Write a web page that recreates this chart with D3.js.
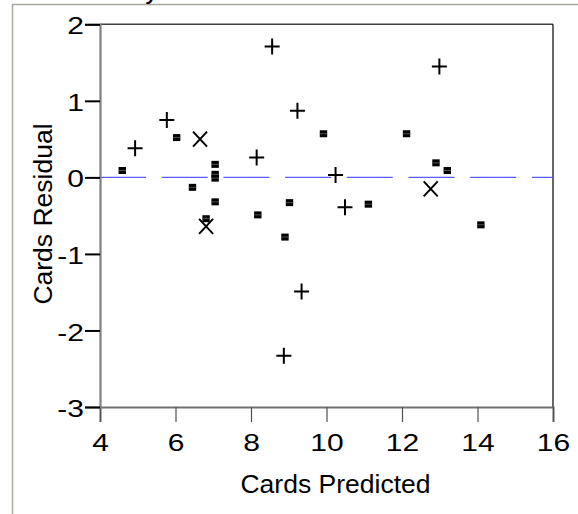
<!DOCTYPE html>
<html>
<head>
<meta charset="utf-8">
<script src="https://cdn.jsdelivr.net/npm/d3@7"></script>
<style>
	body { margin: 0; background: #fff; }
	text { font-family: "Liberation Sans", Arial, sans-serif; fill: #000; }
</style>
</head>
<body>
<svg id="chart" width="578" height="514"></svg>
<script>
/*=================
=== Data
=================*/
var xTicks = [4, 6, 8, 10, 12, 14, 16];
var yTicks = [-3, -2, -1, 0, 1, 2];

// filled squares
var squareX = [4.59, 6.03, 6.45, 6.81, 7.05, 7.05, 7.05, 7.05, 8.18, 8.90, 9.02, 9.92, 11.11, 12.12, 12.90, 13.20, 14.09];
var squareY = [0.09, 0.52, -0.13, -0.54, 0.17, 0.04, -0.01, -0.32, -0.49, -0.78, -0.33, 0.57, -0.35, 0.57, 0.19, 0.09, -0.62];

// plus markers
var plusX = [4.93, 5.77, 8.15, 8.56, 9.23, 8.87, 9.34, 10.24, 10.49, 12.99];
var plusY = [0.38, 0.75, 0.26, 1.71, 0.87, -2.33, -1.49, 0.03, -0.39, 1.45];

// x markers
var crossX = [6.65, 6.81, 12.76];
var crossY = [0.50, -0.64, -0.15];

var fontSize = 26.5;
var tickFont = 24;
var tickStretch = 1.25; // tick digits are drawn wide in the original

/*=================
=== Setup
=================*/
var svg = d3.select('#chart');

var x = d3.scaleLinear().domain([4, 16]).range([100, 553]);
var y = d3.scaleLinear().domain([-3, 2]).range([407, 24.3]);

// outer report frame
svg.append('path')
	.attr('d', 'M12.5,514 V4.5 H578')
	.attr('fill', 'none')
	.attr('stroke', '#a8a8a0')
	.attr('stroke-width', 1.5);

// title, mostly cut off at the top edge (as in the original)
svg.append('text')
	.attr('x', 20)
	.attr('y', -1)
	.attr('font-size', fontSize)
	.text('Residual by Predicted Plot');

// plot frame (top + right)
svg.append('line')
	.attr('x1', x(4)).attr('x2', x(16))
	.attr('y1', y(2)).attr('y2', y(2))
	.attr('stroke', '#404040').attr('stroke-width', 1.5);
svg.append('line')
	.attr('x1', x(16)).attr('x2', x(16))
	.attr('y1', y(2)).attr('y2', y(-3))
	.attr('stroke', '#000').attr('stroke-width', 1.2);

// zero line
svg.append('line')
	.attr('x1', x(4)).attr('x2', x(16))
	.attr('y1', y(0)).attr('y2', y(0))
	.attr('stroke', '#5a5aff')
	.attr('stroke-width', 1.3)
	.attr('stroke-dasharray', '46,15.7');

/*=================
=== Axes
=================*/
var xAxis = svg.append('g')
	.attr('transform', `translate(0,${y(-3)})`)
	.call(d3.axisBottom(x).tickValues(xTicks).tickSize(15).tickPadding(12).tickFormat(d => String(d)));

xAxis.attr('font-family', null);
xAxis.select('.domain').attr('stroke', '#707070').attr('stroke-width', 2);
xAxis.selectAll('.tick line').attr('stroke', '#505050').attr('stroke-width', 1.2);
xAxis.selectAll('.tick text')
	.attr('font-size', tickFont)
	.attr('fill', '#000')
	.attr('transform', `scale(${tickStretch},1)`);

var yAxis = svg.append('g')
	.attr('transform', `translate(${x(4)},0)`)
	.call(d3.axisLeft(y).tickValues(yTicks).tickSize(15).tickPadding(1).tickFormat(d => String(d)));

yAxis.attr('font-family', null);
yAxis.select('.domain').attr('stroke', '#808080').attr('stroke-width', 2.2);
yAxis.selectAll('.tick line').attr('stroke', '#000').attr('stroke-width', 2);
yAxis.selectAll('.tick text')
	.attr('font-size', tickFont)
	.attr('dy', '0.4em')
	.attr('fill', '#000')
	.attr('x', -16 / tickStretch)
	.attr('transform', `scale(${tickStretch},1)`);

// axis titles
svg.append('text')
	.attr('x', 335.5)
	.attr('y', 493)
	.attr('text-anchor', 'middle')
	.attr('font-size', fontSize)
	.text('Cards Predicted');

svg.append('text')
	.attr('transform', 'translate(51.5,214) rotate(-90)')
	.attr('text-anchor', 'middle')
	.attr('font-size', fontSize)
	.text('Cards Residual');

/*=================
=== Markers
=================*/
var marks = svg.append('g').attr('class', 'marks');

var squares = d3.zip(squareX, squareY);
marks.selectAll('rect.sq')
	.data(squares)
	.enter()
	.append('rect')
	.attr('class', 'sq')
	.attr('x', d => x(d[0]) - 3.7)
	.attr('y', d => y(d[1]) - 3.5)
	.attr('width', 7.4)
	.attr('height', 7)
	.attr('fill', '#000');

marks.selectAll('line.sqline')
	.data(squares)
	.enter()
	.append('line')
	.attr('class', 'sqline')
	.attr('x1', d => x(d[0]) - 3.7)
	.attr('x2', d => x(d[0]) + 3.7)
	.attr('y1', d => y(d[1]))
	.attr('y2', d => y(d[1]))
	.attr('stroke', '#666')
	.attr('stroke-width', 0.8);

var plusPath = d3.zip(plusX, plusY);
marks.selectAll('path.plus')
	.data(plusPath)
	.enter()
	.append('path')
	.attr('class', 'plus')
	.attr('d', d => {
		var cx = x(d[0]), cy = y(d[1]);
		return `M${cx - 7.5},${cy}H${cx + 7.5}M${cx},${cy - 8}V${cy + 8}`;
	})
	.attr('stroke', '#000')
	.attr('stroke-width', 2)
	.attr('fill', 'none');

var crosses = d3.zip(crossX, crossY);
marks.selectAll('path.cross')
	.data(crosses)
	.enter()
	.append('path')
	.attr('class', 'cross')
	.attr('d', d => {
		var cx = x(d[0]), cy = y(d[1]);
		return `M${cx - 7},${cy - 7.5}L${cx + 7},${cy + 7.5}M${cx + 7},${cy - 7.5}L${cx - 7},${cy + 7.5}`;
	})
	.attr('stroke', '#000')
	.attr('stroke-width', 2)
	.attr('fill', 'none');
</script>
</body>
</html>
